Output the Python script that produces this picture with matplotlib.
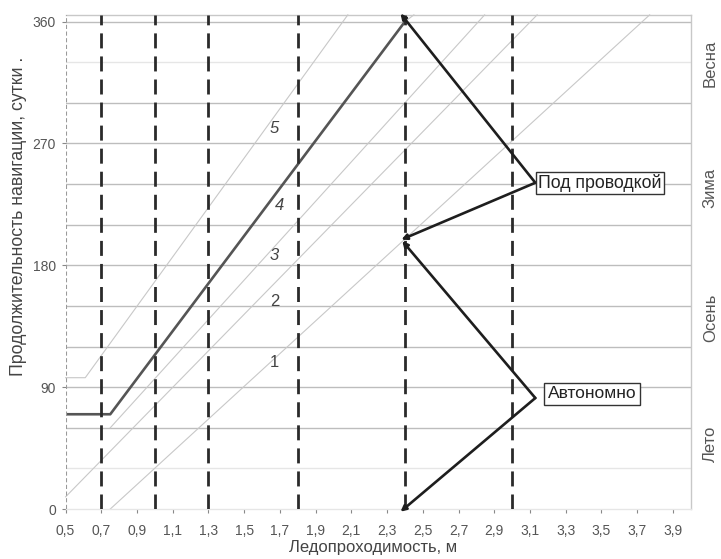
import matplotlib
matplotlib.use("Agg")
import matplotlib.pyplot as plt

plt.rcParams['font.family'] = ['Liberation Sans', 'DejaVu Sans']

# ---- data ----
x_ticks = [0.5, 0.7, 0.9, 1.1, 1.3, 1.5, 1.7, 1.9, 2.1, 2.3, 2.5, 2.7, 2.9, 3.1, 3.3, 3.5, 3.7, 3.9]
y_ticks = [0, 90, 180, 270, 360]
grid_days = [30, 60, 90, 120, 150, 180, 210, 240, 270, 300, 330, 360]
faint_grid_days = [30, 330]
ice_limits = [0.7, 1.0, 1.3, 1.8, 2.4, 3.0]

curve1_x = [0.75, 3.77]
curve1_y = [0, 365]
curve2_x = [0.5, 3.14]
curve2_y = [9, 365]
curve3_x = [0.75, 2.846]
curve3_y = [60, 365]
curve4_x = [0.5, 0.75, 2.4]
curve4_y = [70, 70, 360]
curve4_tail_x = [2.4, 2.45]
curve4_tail_y = [360, 365]
curve5_x = [0.5, 0.61, 2.08]
curve5_y = [97, 97, 365]

curve_labels = ['1', '2', '3', '4', '5']
curve_label_x = [1.67, 1.67, 1.67, 1.70, 1.67]
curve_label_y = [108, 153, 187, 224, 281]

seasons = ['Лето', 'Осень', 'Зима', 'Весна']
season_y = [48, 141, 237, 329]

guided_label = 'Под проводкой'
guided_origin = (3.13, 241)
guided_targets = [(2.375, 366), (2.38, 199)]
auto_label = 'Автономно'
auto_origin = (3.13, 82)
auto_targets = [(2.385, 198), (2.375, -2)]

# ---- figure ----
fig = plt.figure(figsize=(7.21, 5.59), dpi=100)
ax = fig.add_axes([0.091, 0.0894, 0.867, 0.884])
ax.set_xlim(0.5, 4.0)
ax.set_ylim(0, 365)

for d in grid_days:
    c = '#e6e6e6' if d in faint_grid_days else '#bdbdbd'
    ax.axhline(d, color=c, lw=1.0, zorder=1)

# thin curves
for cx, cy in [(curve1_x, curve1_y), (curve2_x, curve2_y), (curve3_x, curve3_y),
               (curve5_x, curve5_y), (curve4_tail_x, curve4_tail_y)]:
    ax.plot(cx, cy, color='#c8c8c8', lw=0.8, zorder=2, clip_on=False)
# thick curve
ax.plot(curve4_x, curve4_y, color='#555555', lw=1.9, zorder=3, solid_capstyle='butt')

# vertical dashed lines
for xv in ice_limits:
    ax.axvline(xv, color='#2a2a2a', lw=2.0, dashes=(5.4, 2.9), zorder=4)
ax.axvline(0.5, color='#9a9a9a', lw=1.5, dashes=(2.0, 1.2), zorder=4)

# curve labels
for lab, lx, ly in zip(curve_labels, curve_label_x, curve_label_y):
    style = 'italic' if lab in ('3', '4', '5') else 'normal'
    ax.text(lx, ly, lab, fontsize=12, color='#444444', style=style,
            ha='center', va='center', zorder=5)

# arrows
ap = dict(arrowstyle='-|>', color='#1e1e1e', lw=1.9, mutation_scale=8,
          shrinkA=0, shrinkB=0)
for t in guided_targets:
    ax.annotate('', xy=t, xytext=guided_origin, arrowprops=ap,
                annotation_clip=False, zorder=6)
for t in auto_targets:
    ax.annotate('', xy=t, xytext=auto_origin, arrowprops=ap,
                annotation_clip=False, zorder=6)

ax.text(guided_origin[0] + 0.015, guided_origin[1], guided_label, fontsize=12.8,
        color='#222222', ha='left', va='center', zorder=7,
        bbox=dict(boxstyle='square,pad=0.12', fc='white', ec='#333333', lw=1.0))
ax.text(auto_origin[0] + 0.07, auto_origin[1] + 3, auto_label, fontsize=12.5,
        color='#222222', ha='left', va='center', zorder=7,
        bbox=dict(boxstyle='square,pad=0.2', fc='white', ec='#333333', lw=1.0))

# seasons
for s, sy in zip(seasons, season_y):
    ax.text(4.11, sy, s, rotation=90, fontsize=12, color='#555555',
            ha='center', va='center', clip_on=False)

# axes styling
ax.spines['left'].set_visible(False)
ax.spines['top'].set_color('#c8c8c8')
ax.spines['right'].set_color('#c8c8c8')
ax.spines['bottom'].set_color('#e6e6e6')
for s in ax.spines.values():
    s.set_linewidth(1.0)

ax.set_xticks(x_ticks)
ax.set_xticklabels([f'{v:.1f}'.replace('.', ',') for v in x_ticks])
ax.set_yticks(y_ticks)
ax.set_yticklabels([str(v) for v in y_ticks])
ax.tick_params(axis='both', labelsize=10, colors='#888888', labelcolor='#555555',
               length=3, width=0.8)
ax.tick_params(axis='x', pad=8)
ax.tick_params(axis='y', pad=4)

fig.text(0.025, 0.613, 'Продолжительность навигации, сутки .', rotation=90,
         fontsize=12.8, color='#444444', ha='center', va='center')
fig.text(0.517, 0.02, 'Ледопроходимость, м', fontsize=12, color='#444444',
         ha='center', va='center')

fig.savefig('out.png', dpi=100)
